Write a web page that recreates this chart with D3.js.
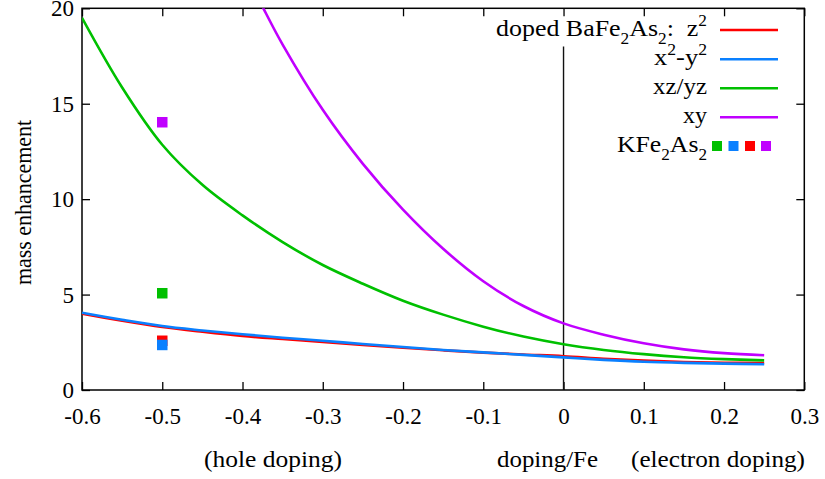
<!DOCTYPE html>
<html>
<head>
<meta charset="utf-8">
<script src="https://cdn.jsdelivr.net/npm/d3@7"></script>
<style>
  html, body { margin: 0; padding: 0; background: #fff; }
  svg { display: block; }
  svg text { font-family: "Liberation Serif", "Times New Roman", "DejaVu Serif", serif; fill: #000; }
</style>
</head>
<body>
<svg id="chart" width="825" height="479"></svg>
<script>
// Doping grid (per Fe) and mass enhancement per orbital for doped BaFe2As2
const dopingX = [-0.6, -0.55, -0.5, -0.45, -0.4, -0.35, -0.3, -0.25, -0.2, -0.15, -0.1, -0.05, 0, 0.05, 0.1, 0.15, 0.2, 0.25];
const massZ2   = [4.00, 3.63, 3.30, 3.05, 2.83, 2.67, 2.52, 2.36, 2.21, 2.08, 1.96, 1.86, 1.77, 1.64, 1.54, 1.47, 1.43, 1.41];
const massX2Y2 = [4.05, 3.68, 3.35, 3.12, 2.92, 2.74, 2.58, 2.41, 2.25, 2.10, 1.97, 1.84, 1.71, 1.58, 1.48, 1.42, 1.38, 1.35];
const massXZYZ = [19.5, 15.85, 12.85, 10.75, 9.15, 7.75, 6.55, 5.57, 4.68, 3.95, 3.32, 2.8, 2.4, 2.1, 1.88, 1.72, 1.62, 1.55];
// xy branch only shown below the top of the frame
const dopingXY = [-0.4, -0.374, -0.35, -0.3, -0.25, -0.2, -0.15, -0.1, -0.05, 0, 0.05, 0.1, 0.15, 0.2, 0.25];
const massXY   = [22.2, 20.0, 18.1, 14.68, 11.85, 9.45, 7.4, 5.7, 4.4, 3.49, 2.9, 2.45, 2.13, 1.93, 1.82];

// KFe2As2 values at doping -0.5
const kDoping = -0.5;
const kOrbitals = ["xz/yz", "z2", "x2-y2", "xy"];
const kMass = [5.07, 2.58, 2.36, 14.03];

const orbitalNames = ["z2", "x2-y2", "xz/yz", "xy"];
const orbitalColors = { "z2": "#ff0000", "x2-y2": "#0a80ff", "xz/yz": "#00c000", "xy": "#c000ff" };
const legendSquareOrder = ["xz/yz", "x2-y2", "z2", "xy"];

const xTicks = [-0.6, -0.5, -0.4, -0.3, -0.2, -0.1, 0, 0.1, 0.2, 0.3];
const yTicks = [0, 5, 10, 15, 20];

// Layout
const plotLeft = 82, plotRight = 804.3, plotTop = 8.3, plotBottom = 390;
const FS = 23;

const svg = d3.select("#chart");

const x = d3.scaleLinear().domain([-0.6, 0.3]).range([plotLeft, plotRight]);
const y = d3.scaleLinear().domain([0, 20]).range([plotBottom, plotTop]);

svg.append("defs").append("clipPath").attr("id", "plotClip")
  .append("rect").attr("x", plotLeft).attr("y", plotTop)
  .attr("width", plotRight - plotLeft).attr("height", plotBottom - plotTop);

// Axes with inward ticks on all four sides
const fmtX = d => d === 0 ? "0" : d.toFixed(1);
const axB = svg.append("g").attr("transform", `translate(0,${plotBottom})`)
  .call(d3.axisBottom(x).tickValues(xTicks).tickFormat(fmtX).tickSizeInner(-8).tickSizeOuter(0));
axB.selectAll("text").attr("y", 34).attr("dy", null).style("font-size", FS + "px");

const axT = svg.append("g").attr("transform", `translate(0,${plotTop})`)
  .call(d3.axisTop(x).tickValues(xTicks).tickFormat("").tickSizeInner(-8).tickSizeOuter(0));

const axL = svg.append("g").attr("transform", `translate(${plotLeft},0)`)
  .call(d3.axisLeft(y).tickValues(yTicks).tickFormat(d3.format("d")).tickSizeInner(-8).tickSizeOuter(0).tickPadding(8));
axL.selectAll("text").style("font-size", FS + "px").attr("dy", "0.33em");

const axR = svg.append("g").attr("transform", `translate(${plotRight},0)`)
  .call(d3.axisRight(y).tickValues(yTicks).tickFormat("").tickSizeInner(-8).tickSizeOuter(0));

[axB, axT, axL, axR].forEach(g => {
  g.attr("font-family", null);
  g.select(".domain").remove();
  g.selectAll(".tick line").attr("stroke", "#000").attr("stroke-width", 1.3);
  g.selectAll("text").attr("fill", "#000");
});

// Frame
svg.append("rect").attr("x", plotLeft).attr("y", plotTop)
  .attr("width", plotRight - plotLeft).attr("height", plotBottom - plotTop)
  .attr("fill", "none").attr("stroke", "#000").attr("stroke-width", 1.5);

// Undoped reference line
svg.append("line").attr("x1", x(0)).attr("x2", x(0)).attr("y1", y(0)).attr("y2", y(18))
  .attr("stroke", "#111").attr("stroke-width", 1.4);

// Curves
const line = d3.line().x(d => x(d[0])).y(d => y(d[1])).curve(d3.curveCatmullRom.alpha(0.5));
const seriesData = {
  "z2": d3.zip(dopingX, massZ2),
  "x2-y2": d3.zip(dopingX, massX2Y2),
  "xz/yz": d3.zip(dopingX, massXZYZ),
  "xy": d3.zip(dopingXY, massXY)
};
const curves = svg.append("g").attr("clip-path", "url(#plotClip)");
orbitalNames.forEach(name => {
  curves.append("path").datum(seriesData[name])
    .attr("d", line).attr("fill", "none")
    .attr("stroke", orbitalColors[name]).attr("stroke-width", 2.6)
    .attr("stroke-linejoin", "round");
});

// KFe2As2 points
const sq = 10.5;
const pointOrder = ["xz/yz", "xy", "z2", "x2-y2"];
pointOrder.forEach(name => {
  const v = kMass[kOrbitals.indexOf(name)];
  svg.append("rect").attr("x", x(kDoping) - sq / 2).attr("y", y(v) - sq / 2)
    .attr("width", sq).attr("height", sq).attr("fill", orbitalColors[name]);
});

// Rich text helper for sub/superscripts, stretched to a set width
function richText(g, xPos, yPos, parts, width) {
  const t = g.append("text").attr("x", xPos).attr("y", yPos)
    .attr("text-anchor", "end").style("font-size", "24px").style("white-space", "pre");
  let shift = 0;
  parts.forEach(p => {
    const s = typeof p === "string" ? { t: p } : p;
    let target = 0;
    if (s.sub) target = 8;
    if (s.sup) target = -10;
    const ts = t.append("tspan").text(s.t).attr("dy", target - shift);
    if (s.sub || s.sup) ts.style("font-size", "16px");
    shift = target;
  });
  if (width) t.attr("textLength", width).attr("lengthAdjust", "spacingAndGlyphs");
  return t;
}

// Legend
const legend = svg.append("g");
const legendTextX = 707;
const rowY = [30, 59.3, 88.3, 117.3, 146];
const legendLabels = [
  ["doped BaFe", { t: "2", sub: true }, "As", { t: "2", sub: true }, ":  z", { t: "2", sup: true }],
  ["x", { t: "2", sup: true }, "-y", { t: "2", sup: true }],
  ["xz/yz"],
  ["xy"]
];
const legendWidths = [211, 53, 54, 24];
orbitalNames.forEach((name, i) => {
  richText(legend, legendTextX, rowY[i] + 6, legendLabels[i], legendWidths[i]);
  legend.append("line").attr("x1", 720).attr("x2", 778).attr("y1", rowY[i]).attr("y2", rowY[i])
    .attr("stroke", orbitalColors[name]).attr("stroke-width", 2.6);
});
richText(legend, legendTextX, rowY[4] + 6, ["KFe", { t: "2", sub: true }, "As", { t: "2", sub: true }], 90);
const squareX = [717, 733.5, 750, 766];
legendSquareOrder.forEach((name, i) => {
  legend.append("rect").attr("x", squareX[i] - 5).attr("y", rowY[4] - 5)
    .attr("width", 10).attr("height", 10).attr("fill", orbitalColors[name]);
});

// Axis titles
function title(txt, x0, y0, width, transform) {
  const t = svg.append("text").attr("x", x0).attr("y", y0)
    .style("font-size", "24px").attr("textLength", width).attr("lengthAdjust", "spacingAndGlyphs")
    .text(txt);
  if (transform) t.attr("transform", transform);
  return t;
}
title("mass enhancement", -285, 31, 165, "rotate(-90)");
title("(hole doping)", 204, 467, 138);
title("doping/Fe", 497, 467, 101);
title("(electron doping)", 631, 467, 174);
</script>
</body>
</html>
